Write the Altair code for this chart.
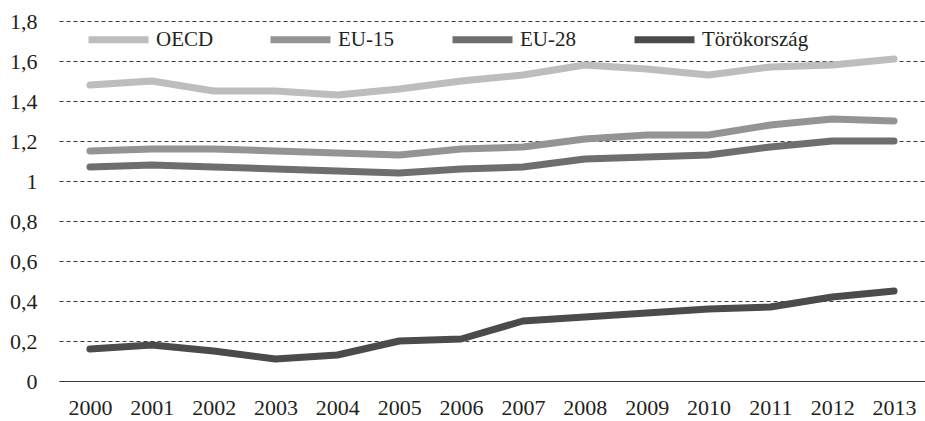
import altair as alt
import pandas as pd

years = [str(y) for y in range(2000, 2014)]
series_names = ["OECD", "EU-15", "EU-28", "Törökország"]
oecd = [1.48, 1.50, 1.45, 1.45, 1.43, 1.46, 1.50, 1.53, 1.58, 1.56, 1.53, 1.57, 1.58, 1.61]
eu15 = [1.15, 1.16, 1.16, 1.15, 1.14, 1.13, 1.16, 1.17, 1.21, 1.23, 1.23, 1.28, 1.31, 1.30]
eu28 = [1.07, 1.08, 1.07, 1.06, 1.05, 1.04, 1.06, 1.07, 1.11, 1.12, 1.13, 1.17, 1.20, 1.20]
turkey = [0.16, 0.18, 0.15, 0.11, 0.13, 0.20, 0.21, 0.30, 0.32, 0.34, 0.36, 0.37, 0.42, 0.45]
colors = ["#bdbdbf", "#949497", "#6e6e71", "#4b4b4d"]
y_ticks = [0, 0.2, 0.4, 0.6, 0.8, 1.0, 1.2, 1.4, 1.6, 1.8]

rows = []
for name, vals in zip(series_names, [oecd, eu15, eu28, turkey]):
    for yr, v in zip(years, vals):
        rows.append({"year": yr, "series": name, "value": v})
df = pd.DataFrame(rows)

FONT = "Liberation Serif"
TEXT = "#231f20"

chart = (
    alt.Chart(df)
    .mark_line(strokeWidth=7, strokeCap="round", strokeJoin="round")
    .encode(
        x=alt.X(
            "year:O",
            sort=years,
            scale=alt.Scale(type="point", padding=0.5),
            axis=alt.Axis(
                title=None,
                labelAngle=0,
                labelFont=FONT,
                labelFontSize=22,
                labelColor=TEXT,
                labelPadding=16,
                ticks=False,
                domain=True,
                domainColor="#3a3a3a",
                domainWidth=1.2,
                grid=False,
            ),
        ),
        y=alt.Y(
            "value:Q",
            scale=alt.Scale(domain=[0, 1.8], nice=False),
            axis=alt.Axis(
                title=None,
                values=y_ticks,
                labelExpr="replace(format(datum.value, '.1~f'), '.', ',')",
                labelFont=FONT,
                labelFontSize=22,
                labelColor=TEXT,
                labelPadding=22,
                ticks=False,
                domain=False,
                grid=True,
                gridColor="#3a3a3a",
                gridDash=[4, 3],
                gridWidth=1,
            ),
        ),
        color=alt.Color(
            "series:N",
            sort=series_names,
            scale=alt.Scale(domain=series_names, range=colors),
            legend=alt.Legend(
                title=None,
                orient="none",
                legendX=26,
                legendY=-15,
                direction="horizontal",
                columns=4,
                gridAlign="all",
                symbolType="stroke",
                symbolSize=3600,
                symbolStrokeWidth=7,
                columnPadding=-7,
                labelOffset=4,
                labelFont=FONT,
                labelFontSize=21,
                labelColor=TEXT,
                labelLimit=300,
            ),
        ),
    )
    .properties(width=866, height=360)
    .configure_view(stroke=None)
    .properties(
        autosize=alt.AutoSizeParams(type="none"),
        padding={"left": 59, "top": 21, "right": 0, "bottom": 40},
    )
)

chart.save("out.html", embed_options={"renderer": "svg", "actions": False})
